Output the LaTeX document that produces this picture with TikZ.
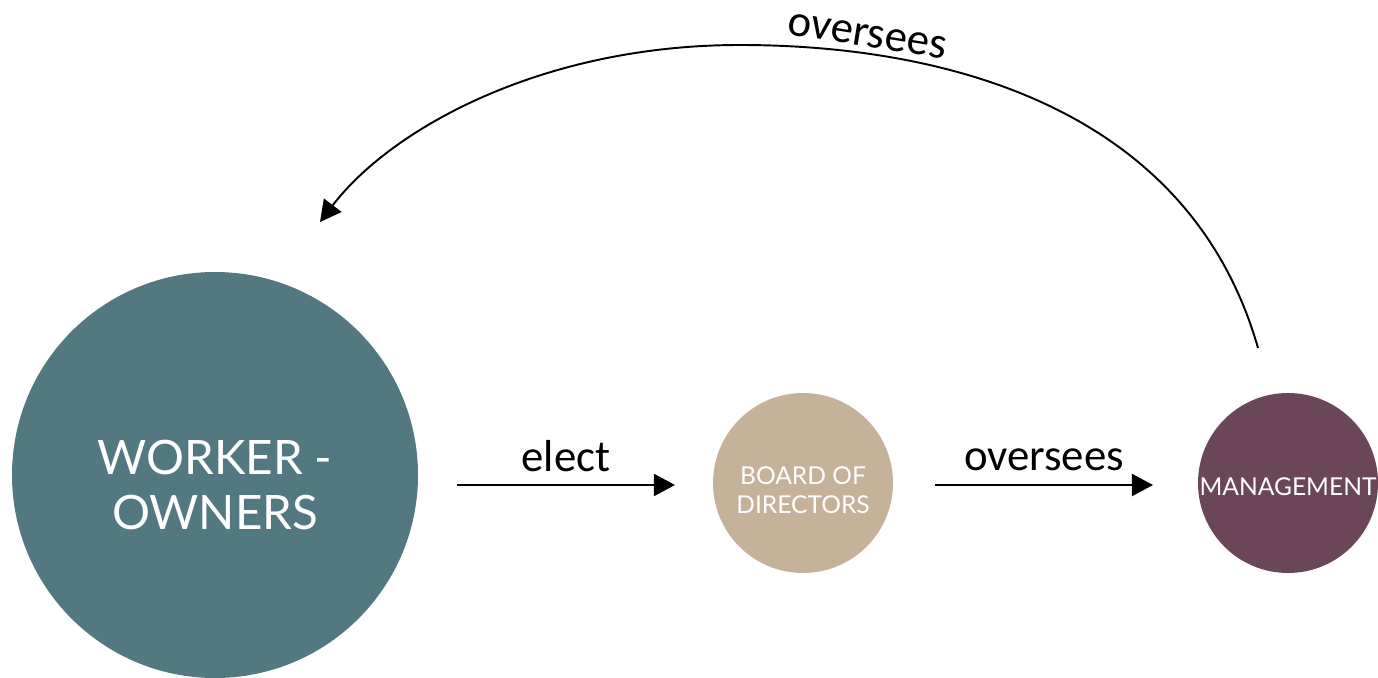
\documentclass[tikz,border=0pt]{standalone}
\usepackage{fontspec}
\setmainfont{Carlito}
\newfontfamily\circfont{Lato}
\usetikzlibrary{arrows.meta}
\definecolor{workercol}{HTML}{527881}
\definecolor{boardcol}{HTML}{C6B299}
\definecolor{mgmtcol}{HTML}{6B4659}
\begin{document}
\begin{tikzpicture}[x=0.02cm, y=0.02cm,
    role/.style={circle, inner sep=0pt},
    roletext/.style={text=white, align=center, inner sep=0pt},
    flow/.style={-{Triangle[length=12pt,width=12.5pt]}, line width=1.3pt},
    lbl/.style={font=\fontsize{25.5}{28}\selectfont, inner sep=0pt}]
    \useasboundingbox (0,0) rectangle (1378,677);
    % circles
    \node[role, fill=workercol, minimum size=406*0.02cm] (owners) at (215,202) {};
    \node[role, fill=boardcol, minimum size=180*0.02cm] (board) at (803,194) {};
    \node[role, fill=mgmtcol, minimum size=180*0.02cm] (mgmt) at (1288,194) {};
    \node[roletext, font=\circfont\fontsize{27}{31}\selectfont]
          (ownerstxt) at ([yshift=-0.2cm]owners.center) {WORKER -\\OWNERS};
    \node[roletext, font=\circfont\fontsize{14}{16.8}\selectfont]
          (boardtxt) at ([yshift=-0.14cm]board.center) {BOARD OF\\DIRECTORS};
    \node[roletext, font=\circfont\fontsize{14}{16.8}\selectfont]
          (mgmttxt) at ([yshift=-0.07cm]mgmt.center) {MANAGEMENT};
    % arrows
    \coordinate (e1) at (457,192);
    \coordinate (e2) at (675,192);
    \coordinate (o1) at (935,192);
    \coordinate (o2) at (1153,192);
    \coordinate (c1) at (1258,329);
    \coordinate (ctop) at (740,632);
    \coordinate (c2) at (320,455);
    \draw[flow] (e1) -- node[lbl, above=0.24cm] (electlbl) {elect} (e2);
    \draw[flow] (o1) -- node[lbl, above=0.26cm] (overlbl) {oversees} (o2);
    \draw[flow, line width=1.1pt] (c1) .. controls (1190,567) and (950,632) .. (ctop)
        .. controls (540,632) and (390,547) .. (c2);
    \node[lbl, rotate=-9] (toplbl) at (867,641) {oversees};
\end{tikzpicture}
\end{document}
